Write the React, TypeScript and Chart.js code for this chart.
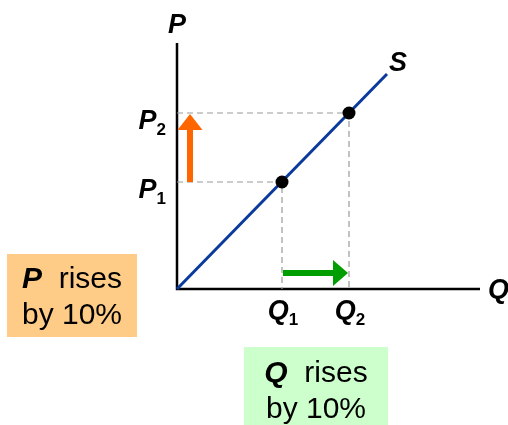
import React, { useEffect, useRef } from "react";
import { Chart, registerables } from "chart.js";

Chart.register(...registerables);

// Axis extents (arbitrary units)
const axisMaxQ = 303;
const axisMaxP = 246;
// Equilibrium points: Q1, Q2 and P1, P2
const quantities = [105, 172];
const prices = [107, 176];
const pointLabels = ["1", "2"];
// Supply curve endpoints
const supplyQ = [0, 210];
const supplyP = [0, 215];
// Annotation texts
const axisLabels = { price: "P", quantity: "Q", supply: "S" };
const priceBox = ["P", "  rises", "by 10%"];
const quantityBox = ["Q", "  rises", "by 10%"];

const FONT = "'Liberation Sans', Arial, sans-serif";

export default function App() {
  const ref = useRef<HTMLCanvasElement | null>(null);

  useEffect(() => {
    document.body.style.margin = "0";
    const canvas = ref.current!;

    const drawArrow = (
      ctx: CanvasRenderingContext2D,
      x1: number, y1: number, x2: number, y2: number,
      color: string, shaft: number, headLen: number, headW: number
    ) => {
      const ang = Math.atan2(y2 - y1, x2 - x1);
      const len = Math.hypot(x2 - x1, y2 - y1);
      ctx.save();
      ctx.translate(x1, y1);
      ctx.rotate(ang);
      ctx.fillStyle = color;
      ctx.fillRect(0, -shaft / 2, len - headLen + 1, shaft);
      ctx.beginPath();
      ctx.moveTo(len, 0);
      ctx.lineTo(len - headLen, -headW / 2);
      ctx.lineTo(len - headLen, headW / 2);
      ctx.closePath();
      ctx.fill();
      ctx.restore();
    };

    const subLabel = (
      ctx: CanvasRenderingContext2D,
      main: string, sub: string, x: number, baseline: number,
      align: "right" | "center"
    ) => {
      ctx.save();
      ctx.fillStyle = "#000";
      ctx.textAlign = "left";
      ctx.textBaseline = "alphabetic";
      const mainFont = `italic bold 27px ${FONT}`;
      const subFont = `bold 17px ${FONT}`;
      ctx.font = mainFont;
      const wm = ctx.measureText(main).width;
      ctx.font = subFont;
      const ws = ctx.measureText(sub).width;
      const total = wm + ws;
      const x0 = align === "right" ? x - total : x - total / 2;
      ctx.font = mainFont;
      ctx.fillText(main, x0, baseline);
      ctx.font = subFont;
      ctx.fillText(sub, x0 + wm, baseline + 6);
      ctx.restore();
    };

    const boxText = (
      ctx: CanvasRenderingContext2D,
      lines: string[], cx: number, b1: number, b2: number
    ) => {
      ctx.save();
      ctx.fillStyle = "#000";
      ctx.textAlign = "left";
      ctx.textBaseline = "alphabetic";
      const fb = `italic bold 30px ${FONT}`;
      const fr = `30px ${FONT}`;
      ctx.font = fb;
      const w1 = ctx.measureText(lines[0]).width;
      ctx.font = fr;
      const w2 = ctx.measureText(lines[1]).width;
      const x0 = cx - (w1 + w2) / 2;
      ctx.font = fb;
      ctx.fillText(lines[0], x0, b1);
      ctx.font = fr;
      ctx.fillText(lines[1], x0 + w1, b1);
      ctx.textAlign = "center";
      ctx.fillText(lines[2], cx, b2);
      ctx.restore();
    };

    const overlay = {
      id: "overlay",
      beforeDatasetsDraw(chart: any) {
        const { ctx, chartArea } = chart;
        ctx.save();
        ctx.strokeStyle = "#000";
        ctx.lineWidth = 2.5;
        ctx.beginPath();
        ctx.moveTo(chartArea.left, chartArea.top);
        ctx.lineTo(chartArea.left, chartArea.bottom);
        ctx.lineTo(chartArea.right, chartArea.bottom);
        ctx.stroke();
        ctx.restore();
      },
      afterDatasetsDraw(chart: any) {
        const { ctx, chartArea, scales } = chart;
        const xs = scales.x, ys = scales.y;
        const xq1 = xs.getPixelForValue(quantities[0]);
        const xq2 = xs.getPixelForValue(quantities[1]);
        const yp1 = ys.getPixelForValue(prices[0]);
        const yp2 = ys.getPixelForValue(prices[1]);
        // orange arrow (price rise)
        drawArrow(ctx, chartArea.left + 13, yp1, chartArea.left + 13, yp2 + 1, "#ff6600", 6, 16, 25);
        // green arrow (quantity rise)
        drawArrow(ctx, xq1 + 1, chartArea.bottom - 16, xq2 - 1, chartArea.bottom - 16, "#009e00", 6, 15, 26);
      },
      afterDraw(chart: any) {
        const { ctx, chartArea, scales } = chart;
        const xs = scales.x, ys = scales.y;
        // axis labels
        ctx.save();
        ctx.fillStyle = "#000";
        ctx.font = `italic bold 27px ${FONT}`;
        ctx.textAlign = "center";
        ctx.textBaseline = "alphabetic";
        ctx.fillText(axisLabels.price, chartArea.left, 33);
        ctx.textAlign = "left";
        ctx.fillText(axisLabels.quantity, chartArea.right + 8, chartArea.bottom + 9);
        const sx = xs.getPixelForValue(supplyQ[1]);
        const sy = ys.getPixelForValue(supplyP[1]);
        ctx.fillText(axisLabels.supply, sx + 2, sy - 3);
        ctx.restore();
        // P1, P2 / Q1, Q2
        prices.forEach((p, i) => {
          subLabel(ctx, "P", pointLabels[i], chartArea.left - 11, ys.getPixelForValue(p) + 16, "right");
        });
        quantities.forEach((q, i) => {
          subLabel(ctx, "Q", pointLabels[i], xs.getPixelForValue(q) + 1, chartArea.bottom + 30, "center");
        });
        // boxes
        ctx.save();
        ctx.fillStyle = "#ffcc88";
        ctx.fillRect(7, 254, 130, 83);
        ctx.fillStyle = "#ccffcc";
        ctx.fillRect(244, 347, 144, 78);
        ctx.restore();
        boxText(ctx, priceBox, 72, 288, 324);
        boxText(ctx, quantityBox, 316, 382, 418);
      },
    };

    const guideSets = quantities.map((q, i) => ({
      data: [
        { x: 0, y: prices[i] },
        { x: q, y: prices[i] },
        { x: q, y: 0 },
      ],
      showLine: true,
      borderColor: "#9a9a9a",
      borderWidth: 1.2,
      borderDash: [6, 4],
      pointRadius: 0,
      order: 3,
      clip: false as any,
    }));

    const chart = new Chart(canvas, {
      type: "scatter",
      data: {
        datasets: [
          {
            data: quantities.map((q, i) => ({ x: q, y: prices[i] })),
            showLine: false,
            pointRadius: 6.5,
            pointBackgroundColor: "#000",
            pointBorderColor: "#000",
            pointBorderWidth: 0,
            order: 0,
            clip: false as any,
          },
          {
            data: supplyQ.map((q, i) => ({ x: q, y: supplyP[i] })),
            showLine: true,
            borderColor: "#0a3a9c",
            borderWidth: 3,
            pointRadius: 0,
            order: 1,
            clip: false as any,
          },
          ...guideSets,
        ],
      },
      options: {
        responsive: false,
        animation: false,
        events: [],
        layout: { padding: { left: 177, right: 28, top: 43, bottom: 136 } },
        scales: {
          x: { type: "linear", min: 0, max: axisMaxQ, display: false },
          y: { type: "linear", min: 0, max: axisMaxP, display: false },
        },
        plugins: { legend: { display: false }, tooltip: { enabled: false } },
      },
      plugins: [overlay],
    });
    return () => chart.destroy();
  }, []);

  return (
    <canvas
      ref={ref}
      width={508}
      height={425}
      style={{ display: "block", width: 508, height: 425 }}
    />
  );
}
